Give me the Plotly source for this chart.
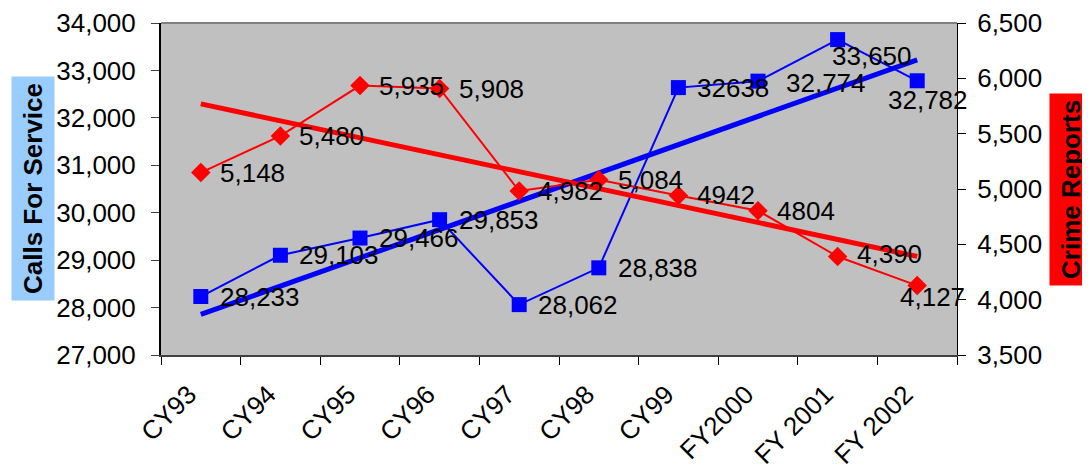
import numpy as np
import plotly.graph_objects as go

categories = ["CY93", "CY94", "CY95", "CY96", "CY97", "CY98", "CY99", "FY2000", "FY 2001", "FY 2002"]
calls = [28233, 29103, 29466, 29853, 28062, 28838, 32638, 32774, 33650, 32782]
calls_labels = ["28,233", "29,103", "29,466", "29,853", "28,062", "28,838", "32638", "32,774", "33,650", "32,782"]
crime = [5148, 5480, 5935, 5908, 4982, 5084, 4942, 4804, 4390, 4127]
crime_labels = ["5,148", "5,480", "5,935", "5,908", "4,982", "5,084", "4942", "4804", "4,390", "4,127"]

# label placement (style only): (xanchor, xshift, yshift)
calls_place = [("left", 17, 0)] * 7 + [("left", 26, -2), ("center", 34, -16), ("center", 11, -19)]
crime_place = [("left", 17, 0)] * 8 + [("left", 17, 3), ("center", 15, -11)]

idx = np.arange(len(categories))
cfit = np.polyfit(idx, calls, 1)
calls_trend = list(np.polyval(cfit, idx))
rfit = np.polyfit(idx, crime, 1)
crime_trend = list(np.polyval(rfit, idx))

FONT = "Liberation Sans, Arial, sans-serif"
BLUE = "#0000FF"
RED = "#FF0000"
FS = 26

fig = go.Figure()
fig.add_trace(go.Scatter(x=categories, y=calls, mode="lines+markers",
                         line=dict(color=BLUE, width=2),
                         marker=dict(symbol="square", size=15, color=BLUE),
                         yaxis="y", showlegend=False, cliponaxis=False))
fig.add_trace(go.Scatter(x=categories, y=calls_trend, mode="lines",
                         line=dict(color=BLUE, width=5),
                         yaxis="y", showlegend=False))
fig.add_trace(go.Scatter(x=categories, y=crime, mode="lines+markers",
                         line=dict(color=RED, width=2),
                         marker=dict(symbol="diamond", size=15, color=RED),
                         yaxis="y2", showlegend=False, cliponaxis=False))
fig.add_trace(go.Scatter(x=categories, y=crime_trend, mode="lines",
                         line=dict(color=RED, width=5),
                         yaxis="y2", showlegend=False))

annotations = []
for cat, val, lab, (xa, dx, dy) in zip(categories, calls, calls_labels, calls_place):
    annotations.append(dict(x=cat, y=val, xref="x", yref="y", text=lab, showarrow=False,
                            xanchor=xa, yanchor="middle", xshift=dx, yshift=dy,
                            font=dict(family=FONT, size=FS, color="black")))
for cat, val, lab, (xa, dx, dy) in zip(categories, crime, crime_labels, crime_place):
    annotations.append(dict(x=cat, y=val, xref="x", yref="y2", text=lab, showarrow=False,
                            xanchor=xa, yanchor="middle", xshift=dx, yshift=dy,
                            font=dict(family=FONT, size=FS, color="black")))
annotations += [
    dict(text="<b>Calls For Service</b>", xref="paper", yref="paper",
         x=-0.1608, y=0.5, xanchor="center", yanchor="middle", textangle=-90,
         showarrow=False, bgcolor="#99CCFF", borderpad=6,
         font=dict(family=FONT, size=FS, color="black")),
    dict(text="<b>Crime Reports</b>", xref="paper", yref="paper",
         x=1.1432, y=0.5, xanchor="center", yanchor="middle", textangle=-90,
         showarrow=False, bgcolor="#FF0000", borderpad=6,
         font=dict(family=FONT, size=FS, color="black")),
]

# the page body has an 8px default margin, so the figure is sized/offset to compensate
fig.update_layout(
    width=1082, height=459,
    margin=dict(l=153, r=133, t=15, b=112, pad=0, autoexpand=False),
    paper_bgcolor="white", plot_bgcolor="#C0C0C0",
    font=dict(family=FONT, size=FS, color="black"),
    hovermode=False,
    xaxis=dict(type="category", range=[-0.5, 9.5], tickangle=-45, automargin=False,
               tickson="boundaries", ticks="outside", ticklen=8, tickcolor="black",
               showline=True, linecolor="#404040", linewidth=2, mirror=False,
               showgrid=False, zeroline=False,
               ticklabelstandoff=12, ticklabelshift=-12,
               tickfont=dict(family=FONT, size=FS)),
    yaxis=dict(range=[27000, 34000], dtick=1000, tickformat=",d", automargin=False,
               ticks="outside", ticklen=8, tickcolor="#404040",
               showline=True, linecolor="black", linewidth=2,
               showgrid=False, zeroline=False, ticklabelstandoff=10,
               tickfont=dict(family=FONT, size=FS)),
    yaxis2=dict(range=[3500, 6500], dtick=500, tickformat=",d", overlaying="y", side="right",
                automargin=False,
                ticks="outside", ticklen=8, tickcolor="black",
                showline=True, linecolor="black", linewidth=1,
                showgrid=False, zeroline=False, ticklabelstandoff=6,
                tickfont=dict(family=FONT, size=FS)),
    shapes=[dict(type="line", xref="paper", yref="paper", x0=0, x1=1, y0=1, y1=1,
                 line=dict(color="#808080", width=2))],
    annotations=annotations,
)

fig.write_html("out.html")
